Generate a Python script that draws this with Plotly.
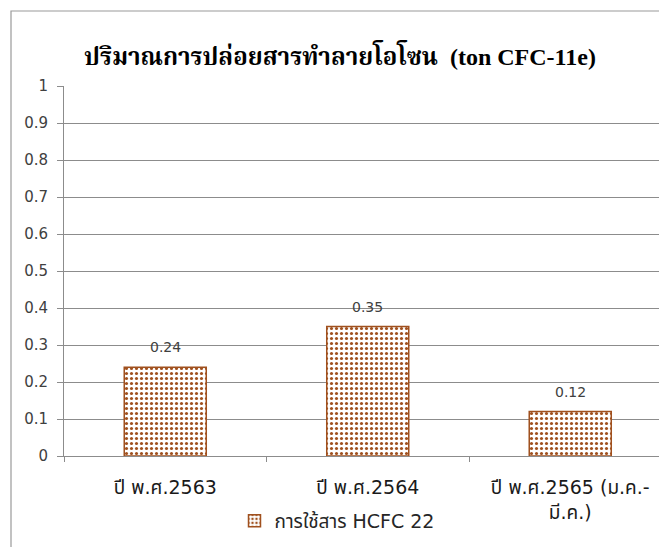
import plotly.graph_objects as go

# Ozone-depleting substance emissions by year
categories = ["ปี พ.ศ.2563", "ปี พ.ศ.2564", "ปี พ.ศ.2565 (ม.ค.-<br>มี.ค.)"]
values = [0.24, 0.35, 0.12]
value_labels = ["0.24", "0.35", "0.12"]
series_name = "การใช้สาร HCFC 22"
title_text = "ปริมาณการปล่อยสารทำลายโอโซน  (ton CFC-11e)"
y_ticks = [0, 0.1, 0.2, 0.3, 0.4, 0.5, 0.6, 0.7, 0.8, 0.9, 1]
y_tick_labels = ["0", "0.1", "0.2", "0.3", "0.4", "0.5", "0.6", "0.7", "0.8", "0.9", "1"]

BROWN = "#a0501e"
GRID = "#8c8c8c"
SANS = "Tahoma, 'DejaVu Sans', 'Noto Sans Thai', sans-serif"

W, H = 659, 547
ML, MR, MT, MB = 64, 0, 86, 91
plot_w = W - ML - MR
plot_h = H - MT - MB

fig = go.Figure()
fig.add_trace(go.Bar(
    x=categories,
    y=values,
    name=series_name,
    width=0.405,
    marker=dict(
        color="white",
        line=dict(color=BROWN, width=1.5),
        pattern=dict(shape=".", fgcolor=BROWN, bgcolor="white",
                     size=5, solidity=0.3, fillmode="replace"),
    ),
))

# value labels above each bar
for cat, val, lab in zip(categories, values, value_labels):
    fig.add_annotation(x=cat, y=val, text=lab, showarrow=False,
                       yanchor="bottom", yshift=10,
                       font=dict(family=SANS, size=14, color="#404040"))

# outer chart border (continues past the right and bottom edges)
bx0 = (11 - ML) / plot_w
by1 = (MT + plot_h - 11) / plot_h
fig.add_shape(type="rect", xref="paper", yref="paper",
              x0=bx0, x1=1.2, y0=-0.6, y1=by1,
              line=dict(color="#9a9a9a", width=1.2), fillcolor="rgba(0,0,0,0)",
              layer="below")

fig.update_layout(
    width=W, height=H,
    margin=dict(l=ML, r=MR, t=MT, b=MB),
    paper_bgcolor="white", plot_bgcolor="white",
    title=dict(text=title_text, x=340 / W, xanchor="center",
               y=1 - 57 / H, yanchor="middle",
               font=dict(family="'Liberation Serif', 'Noto Serif Thai', serif",
                         size=24, color="black", weight="bold")),
    showlegend=True,
    legend=dict(orientation="h", x=(337 - ML) / plot_w, xanchor="center",
                y=(MT + plot_h - 521) / plot_h, yanchor="middle",
                font=dict(family=SANS, size=19, color="#262626"),
                bgcolor="rgba(0,0,0,0)", itemwidth=30),
    bargap=0.6,
)

fig.update_xaxes(
    type="category",
    range=[-0.5, -0.5 + plot_w / 202.5],
    showline=True, linecolor=GRID, linewidth=1,
    ticks="outside", tickson="boundaries", ticklen=5, tickcolor=GRID,
    showgrid=False,
    tickfont=dict(family=SANS, size=19, color="#1a1a1a"),
    ticklabelstandoff=14,
)
fig.update_yaxes(
    range=[0, 1],
    tickvals=y_ticks, ticktext=y_tick_labels,
    showline=True, linecolor=GRID, linewidth=1,
    ticks="outside", ticklen=6, tickcolor=GRID,
    showgrid=True, gridcolor=GRID, gridwidth=1,
    zeroline=False,
    tickfont=dict(family=SANS, size=15, color="#404040"),
    ticklabelstandoff=6,
)

fig.write_html("out.html")
